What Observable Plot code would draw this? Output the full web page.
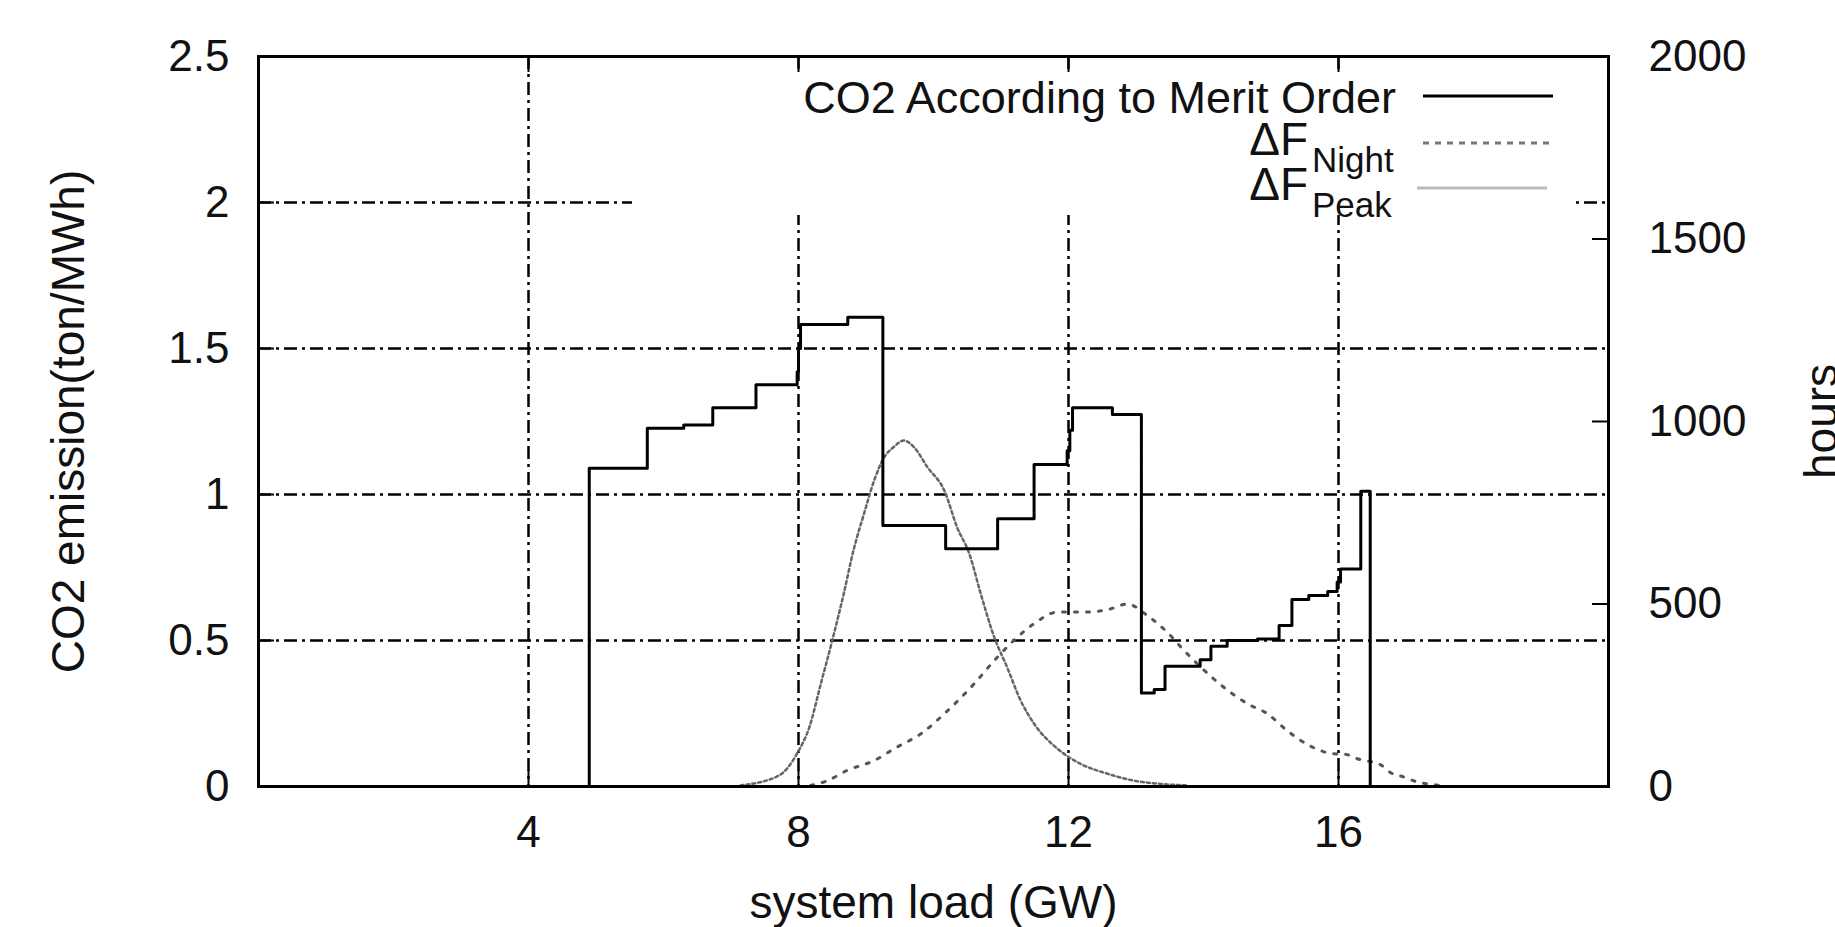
<!DOCTYPE html>
<html>
<head>
<meta charset="utf-8">
<script src="https://cdn.jsdelivr.net/npm/d3@7"></script>
<script src="https://cdn.jsdelivr.net/npm/@observablehq/plot@0.6"></script>
<style>
  html, body { margin: 0; padding: 0; background: white; overflow: hidden; }
  #chart { position: relative; width: 1835px; height: 927px; }
</style>
</head>
<body>
<div id="chart"></div>
<script>
// ---- data ----
const xTicks = [4, 8, 12, 16];
const yTicks = [0, 0.5, 1, 1.5, 2, 2.5];
const gridY = [0.5, 1, 1.5, 2];
const hourTicks = [0, 500, 1000, 1500, 2000];
const hoursAtTop = 2000;   // right axis max
const emissionAtTop = 2.5; // left axis max

// CO2 according to merit order (step function, value starts at each load)
const co2Load = [4.90, 4.90, 5.76, 6.30, 6.73, 7.37, 7.98, 8.00, 8.03, 8.73, 9.25, 10.18, 10.95, 11.49,
                 11.98, 12.02, 12.06, 12.65, 13.08, 13.27, 13.43, 13.95, 14.11, 14.35, 14.80, 15.12,
                 15.31, 15.56, 15.84, 15.98, 16.03, 16.33, 16.47];
const co2Emission = [0, 1.09, 1.227, 1.238, 1.297, 1.376, 1.42, 1.50, 1.582, 1.607, 0.894, 0.814, 0.917, 1.103,
                     1.15, 1.22, 1.297, 1.274, 0.32, 0.332, 0.412, 0.434, 0.480, 0.500, 0.505, 0.551,
                     0.640, 0.654, 0.668, 0.70, 0.745, 1.011, 0];

// ΔF Night (broad curve), hours
const nightLoad = [8.18, 8.43, 8.72, 9.12, 9.46, 9.81, 10.21, 10.60, 10.90, 11.19, 11.49, 11.84, 12.28, 12.63,
                   12.87, 13.17, 13.46, 13.71, 13.96, 14.30, 14.65, 14.95, 15.24, 15.59, 15.91, 16.11, 16.28,
                   16.62, 16.77, 16.97, 17.17, 17.37, 17.56];
const nightHours = [3, 16, 44, 71, 108, 144, 208, 281, 345, 400, 446, 478, 478, 487,
                    500, 468, 423, 373, 327, 272, 227, 199, 153, 110, 90, 88, 76,
                    60, 38, 26, 12, 6, 2];

// ΔF Peak (narrow curve), hours
const peakLoad = [7.14, 7.71, 7.99, 8.16, 8.33, 8.50, 8.67, 8.82, 8.97, 9.12, 9.27, 9.41, 9.56, 9.71, 9.91,
                  10.16, 10.35, 10.53, 10.70, 10.90, 11.09, 11.29, 11.49, 11.84, 12.18, 12.58, 12.97, 13.37, 13.76];
const peakHours = [3, 30, 94, 162, 281, 400, 528, 651, 747, 838, 902, 930, 948, 930, 875,
                   811, 710, 638, 528, 409, 327, 236, 172, 103, 62, 35, 16, 7, 3];

// ---- tables ----
const toY = h => h * emissionAtTop / hoursAtTop;
const co2 = co2Load.map((x, i) => ({load: x, value: co2Emission[i]}));
const night = nightLoad.map((x, i) => ({load: x, value: toY(nightHours[i])}));
const peak = peakLoad.map((x, i) => ({load: x, value: toY(peakHours[i])}));

const W = 1835, H = 927;
const mL = 258, mR = 227, mT = 56, mB = 141;
const plotW = W - mL - mR, plotH = H - mT - mB;
const tick = 16;
const gridStyle = {stroke: "black", strokeWidth: 2.5, strokeDasharray: "13,5,3,5"};
const nightStyle = {stroke: "#555", strokeWidth: 3, strokeDasharray: "3,9"};
const peakStyle = {stroke: "#666", strokeWidth: 2.5, strokeDasharray: "3,3"};
const font = "Liberation Sans, Arial, sans-serif";

const chart = Plot.plot({
  width: W, height: H,
  marginLeft: mL, marginRight: mR, marginTop: mT, marginBottom: mB,
  x: {domain: [0, 20]},
  y: {domain: [0, emissionAtTop]},
  style: {fontFamily: font, fontSize: "44px", color: "#111", background: "white"},
  marks: [
    Plot.ruleX(xTicks, {x: d => d, ...gridStyle}),
    Plot.ruleY(gridY, {y: d => d, ...gridStyle}),
    Plot.line(night, {x: "load", y: "value", curve: "monotone-x", ...nightStyle}),
    Plot.line(peak, {x: "load", y: "value", curve: "monotone-x", ...peakStyle}),
    Plot.line(co2, {x: "load", y: "value", curve: "step-after", stroke: "black", strokeWidth: 3}),
    // inward tick marks (gnuplot style)
    Plot.tickX(xTicks, {x: d => d, insetTop: plotH - tick, stroke: "black", strokeWidth: 2}),
    Plot.tickX(xTicks, {x: d => d, insetBottom: plotH - tick, stroke: "black", strokeWidth: 2}),
    Plot.tickY(yTicks, {y: d => d, insetRight: plotW - tick, stroke: "black", strokeWidth: 2}),
    Plot.tickY(hourTicks.map(toY), {y: d => d, insetLeft: plotW - tick, stroke: "black", strokeWidth: 2}),
    Plot.frame({stroke: "black", strokeWidth: 3}),
    Plot.axisX(xTicks, {tickSize: 0, tickPadding: 29, label: null, fontSize: 44}),
    Plot.axisY(yTicks, {anchor: "left", tickSize: 0, tickPadding: 29, label: null, fontSize: 44,
      tickFormat: d => String(d)}),
    Plot.axisY(hourTicks.map(toY), {anchor: "right", tickSize: 0, tickPadding: 40, label: null, fontSize: 44,
      tickFormat: d => String(Math.round(d * hoursAtTop / emissionAtTop))}),
    Plot.text(["system load (GW)"], {frameAnchor: "bottom", dy: 131, lineAnchor: "bottom", fontSize: 46, fill: "#111"}),
    Plot.text(["CO2 emission(ton/MWh)"], {frameAnchor: "left", rotate: -90, dx: 83 - mL, textAnchor: "middle",
      lineAnchor: "bottom", fontSize: 46, fill: "#111"}),
    Plot.text(["hours"], {frameAnchor: "right", rotate: -90, dx: 1836 - (W - mR), textAnchor: "middle",
      lineAnchor: "bottom", fontSize: 46, fill: "#111"})
  ]
});
document.getElementById("chart").appendChild(chart);

// ---- key (opaque box, gnuplot style) ----
const svg = d3.select(chart);
const key = svg.append("g").attr("font-family", font).attr("fill", "#111");
key.append("rect").attr("x", 632).attr("y", 72).attr("width", 940).attr("height", 143).attr("fill", "white");
const keyRows = [
  {y: 96, main: "CO2 According to Merit Order", sub: null, style: {stroke: "black", strokeWidth: 3}, x1: 1423, x2: 1553},
  {y: 143, main: "\u0394F", sub: "Night", style: {stroke: "#777", strokeWidth: 3, strokeDasharray: "6,6"}, x1: 1423, x2: 1552},
  {y: 188, main: "\u0394F", sub: "Peak", style: {stroke: "#bbb", strokeWidth: 3}, x1: 1417, x2: 1547}
];
keyRows.forEach(r => {
  key.append("line").attr("x1", r.x1).attr("x2", r.x2).attr("y1", r.y).attr("y2", r.y)
    .attr("stroke", r.style.stroke).attr("stroke-width", r.style.strokeWidth)
    .attr("stroke-dasharray", r.style.strokeDasharray || null);
  if (!r.sub) {
    key.append("text").attr("x", 1396).attr("y", r.y + 17).attr("text-anchor", "end")
      .attr("font-size", 45).text(r.main);
  } else {
    key.append("text").attr("x", 1308).attr("y", r.y + 12).attr("text-anchor", "end")
      .attr("font-size", 46).text(r.main);
    key.append("text").attr("x", 1312).attr("y", r.y + 29).attr("text-anchor", "start")
      .attr("font-size", 35).text(r.sub);
  }
});
</script>
</body>
</html>
